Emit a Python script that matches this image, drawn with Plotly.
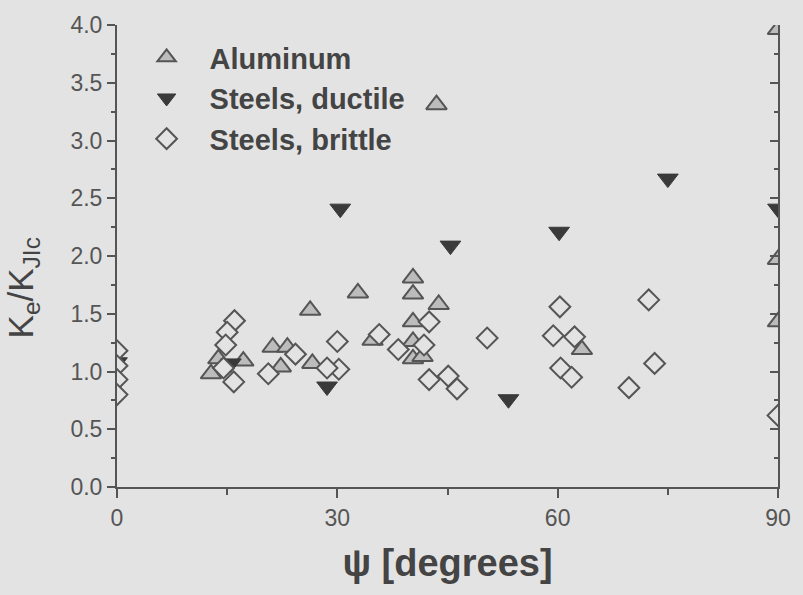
import plotly.graph_objects as go

# Aluminum (gray triangles)
al_x = [12.8, 13.8, 17.2, 21.2, 23.2, 22.3, 26.3, 26.6, 32.8, 34.8, 40.3, 40.3, 43.8,
        40.3, 40.3, 40.3, 41.6, 63.3, 43.5, 90.0, 90.0, 90.0]
al_y = [0.98, 1.11, 1.09, 1.21, 1.21, 1.04, 1.53, 1.07, 1.68, 1.27, 1.81, 1.67, 1.58,
        1.43, 1.26, 1.11, 1.13, 1.19, 3.31, 3.96, 1.97, 1.43]

# Steels, ductile (filled dark down-triangles)
du_x = [30.4, 45.4, 60.2, 75.0, 28.6, 53.3, 90.0, 15.5, 0.0]
du_y = [2.41, 2.09, 2.21, 2.67, 0.87, 0.76, 2.41, 1.07, 1.08]

# Steels, brittle (open diamonds)
br_x = [16.0, 15.0, 14.8, 14.5, 15.9, 20.6, 24.3, 30.0, 30.2, 28.6, 35.7, 38.3,
        42.5, 41.8, 42.5, 45.1, 46.3, 60.3, 50.4, 59.4, 62.3, 60.4, 61.9, 72.4,
        73.2, 69.7, 0.0, 0.0, 0.0, 0.0, 90.0]
br_y = [1.44, 1.34, 1.23, 1.03, 0.91, 0.98, 1.15, 1.26, 1.02, 1.03, 1.32, 1.19,
        1.43, 1.23, 0.93, 0.96, 0.85, 1.56, 1.29, 1.31, 1.30, 1.03, 0.95, 1.62,
        1.07, 0.86, 1.18, 1.05, 0.93, 0.80, 0.62]

BG = "#e3e3e3"
DARK = "#555555"
TXT = "#444444"
SANS = "Liberation Sans, Arial, sans-serif"
NARROW = "Liberation Sans Narrow, Liberation Sans, Arial, sans-serif"

fig = go.Figure()
fig.add_trace(go.Scatter(
    x=al_x, y=al_y, mode="markers", name="Aluminum", legendgroup="a",
    marker=dict(symbol="triangle-up", size=18, color="#bcbcbc",
                line=dict(color=DARK, width=2))))
fig.add_trace(go.Scatter(
    x=du_x, y=du_y, mode="markers", name="Steels, ductile", legendgroup="b",
    marker=dict(symbol="triangle-down", size=18, color="#3a3a3a",
                line=dict(color="#3a3a3a", width=1))))
fig.add_trace(go.Scatter(
    x=br_x, y=br_y, mode="markers", name="Steels, brittle", legendgroup="c",
    marker=dict(symbol="diamond", size=16, color=BG,
                line=dict(color=DARK, width=2))))
fig.add_trace(go.Scatter(x=[None], y=[None], yaxis="y2", showlegend=False,
                         hoverinfo="skip"))

fig.update_layout(
    width=803, height=595,
    margin=dict(l=117, r=16, t=18, b=108),
    paper_bgcolor=BG, plot_bgcolor=BG,
    font=dict(family=SANS, color=DARK, size=23),
    showlegend=True,
    legend=dict(x=0.01, y=0.985, xanchor="left", yanchor="top",
                bgcolor="rgba(0,0,0,0)", traceorder="grouped",
                tracegroupgap=0, itemwidth=76,
                font=dict(family=SANS, size=29, color=TXT, weight="bold")),
    xaxis=dict(range=[0, 90], tickmode="linear", tick0=0, dtick=30,
               showgrid=False, zeroline=False, showline=True,
               linecolor=DARK, linewidth=2, ticks="outside", ticklen=9,
               tickwidth=2, tickcolor=DARK,
               minor=dict(dtick=15, ticks="outside", ticklen=6, tickwidth=2,
                          tickcolor=DARK, showgrid=False),
               title=dict(text="ψ [degrees]", standoff=20,
                          font=dict(size=38, color=TXT, weight="bold",
                                    family=NARROW))),
    yaxis=dict(range=[0, 4], tickmode="linear", tick0=0, dtick=0.5,
               tickformat=".1f", showgrid=False, zeroline=False,
               showline=True, linecolor=DARK, linewidth=2,
               ticks="outside", ticklen=8, tickwidth=2, tickcolor=DARK,
               minor=dict(dtick=0.25, ticks="outside", ticklen=4, tickwidth=2,
                          tickcolor=DARK, showgrid=False)),
    yaxis2=dict(range=[0, 4], overlaying="y", side="right", anchor="x",
                tickmode="linear", tick0=0, dtick=0.5, showticklabels=False,
                showgrid=False, zeroline=False, showline=True,
                linecolor=DARK, linewidth=2, ticks="inside", ticklen=8,
                tickwidth=2, tickcolor=DARK,
                minor=dict(dtick=0.25, ticks="inside", ticklen=4, tickwidth=2,
                           tickcolor=DARK, showgrid=False)),
    annotations=[dict(text="K<sub>e</sub>/K<sub>JIc</sub>", textangle=-90,
                      xref="paper", yref="paper", x=-0.142, y=0.43,
                      xanchor="center", yanchor="middle", showarrow=False,
                      font=dict(family=SANS, size=35, color=TXT))],
)

fig.write_html("out.html")
